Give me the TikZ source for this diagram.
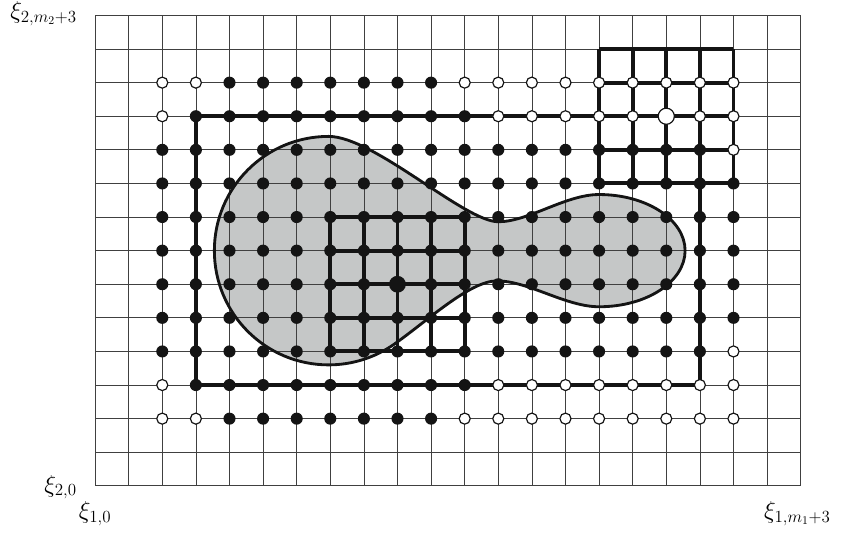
\documentclass[tikz,border=0pt]{standalone}
\usepackage{amsmath,amssymb}
\usepackage{tikz}
\usetikzlibrary{calc}
\definecolor{DomainGray}{HTML}{C5C7C7}
\newcommand{\domainpath}{(6.95,10.4) arc[start angle=90,end angle=305,radius=3.4]
  .. controls (9.88,4.90) and (11.15,6.1) .. (11.96,6.1)
  .. controls (12.9,6.1) and (14.0,5.33) .. (15.0,5.33)
  arc[start angle=-90,end angle=90,x radius=2.56,y radius=1.67]
  .. controls (14.0,8.67) and (12.9,7.86) .. (12.0,7.86)
  .. controls (11.0,7.86) and (8.3,10.4) .. cycle}

\begin{document}
\begin{tikzpicture}[x=1cm,y=1cm,
  fd/.style={circle,fill=black!92,inner sep=0pt,minimum size=3.6mm},
  bfd/.style={fd,minimum size=5mm},
  od/.style={circle,draw=black!92,fill=white,line width=1pt,inner sep=0pt,minimum size=3.3mm},
  bod/.style={od,minimum size=4.8mm},
  thk/.style={line width=3.3pt,black!92},
  lab/.style={font=\fontsize{20}{24}\selectfont,inner sep=0pt}]
\useasboundingbox (-2.83,-1.40) rectangle (22.2,14.46);
% physical domain (fill), then background mesh
\fill[DomainGray] \domainpath;
\draw[line width=0.6pt,black!75] (0,0) grid (21,14);
\draw[line width=2.4pt,black!92] \domainpath;
% supports
\draw[thk] (3,3) rectangle (18,11);
\draw[thk] (7,4) grid (11,8);
\draw[thk] (15,9) grid (19,13);
% active dofs
\foreach \j/\a/\b in {12/4/10,11/3/11,10/2/18,9/2/19,8/2/19,7/2/19,6/2/19,5/2/19,4/2/18,3/3/11,2/4/10}{
  \foreach \i in {\a,...,\b}{
    \node[fd] (f-\i-\j) at (\i,\j) {};
  }
}
% inactive dofs
\foreach \j/\a/\b in {12/11/19,11/12/16,11/18/19,10/19/19,4/19/19,3/12/19,2/11/19}{
  \foreach \i in {\a,...,\b}{
    \node[od] (o-\i-\j) at (\i,\j) {};
  }
}
\foreach \i/\j in {2/12,3/12,2/11,2/3,2/2,3/2}{
  \node[od] (o-\i-\j) at (\i,\j) {};
}
\node[bfd] (cin) at (9,6) {};
\node[bod] (cout) at (17,11) {};
% axis labels
\node[lab,anchor=base east] (yt) at (-0.54,13.91) {$\xi_{2,m_2+3}$};
\node[lab,anchor=base east] (yb) at (-0.54,-0.19) {$\xi_{2,0}$};
\node[lab,anchor=base] (xl) at (0,-0.97) {$\xi_{1,0}$};
\node[lab,anchor=base] (xr) at (20.9,-0.97) {$\xi_{1,m_1+3}$};
\end{tikzpicture}
\end{document}
